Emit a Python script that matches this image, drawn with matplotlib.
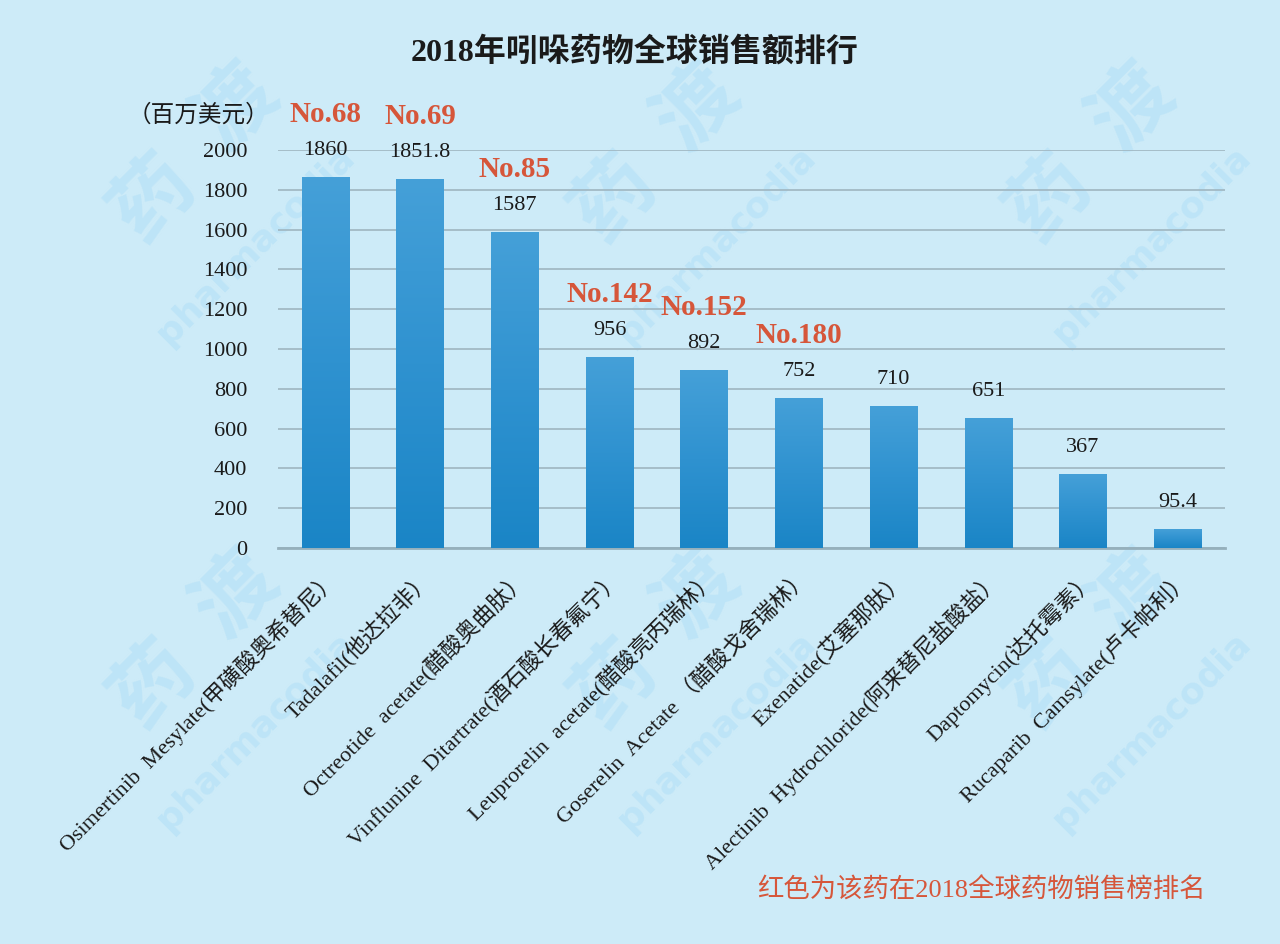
import matplotlib
matplotlib.use('Agg')
import matplotlib.pyplot as plt
import numpy as np
from matplotlib.colors import LinearSegmentedColormap

plt.rcParams['font.family'] = ['Liberation Serif', 'Noto Sans CJK SC']

# 数据
drugs = [
    'Osimertinib  Mesylate(甲磺酸奥希替尼）',
    'Tadalafil(他达拉非）',
    'Octreotide  acetate(醋酸奥曲肽）',
    'Vinflunine  Ditartrate(酒石酸长春氟宁）',
    'Leuprorelin  acetate(醋酸亮丙瑞林）',
    'Goserelin  Acetate （醋酸戈舍瑞林）',
    'Exenatide(艾塞那肽）',
    'Alectinib  Hydrochloride(阿来替尼盐酸盐）',
    'Daptomycin(达托霉素）',
    'Rucaparib  Camsylate(卢卡帕利）',
]
sales = [1860, 1851.8, 1587, 956, 892, 752, 710, 651, 367, 95.4]
value_labels = ['1860', '1851.8', '1587', '956', '892', '752', '710', '651', '367', '95.4']
ranks = ['No.68', 'No.69', 'No.85', 'No.142', 'No.152', 'No.180', '', '', '', '']
y_ticks = [0, 200, 400, 600, 800, 1000, 1200, 1400, 1600, 1800, 2000]

bg = '#cdebf8'
red = '#d6563a'

fig = plt.figure(figsize=(12.8, 9.44), dpi=100, facecolor=bg)

# 水印 (淡色, 放在最底层)
wm = '#bde4f7'
for dx in [0, 0.36, 0.70]:
    for dy in [0, -0.515]:
        fig.text(0.20 + dx, 0.74 + dy, 'pharmacodia', rotation=45, fontsize=26,
                 fontweight='bold', color=wm, family='DejaVu Sans',
                 ha='center', va='center', zorder=-5)
        fig.text(0.12 + dx, 0.79 + dy, '药', rotation=45, fontsize=58,
                 fontweight='bold', color=wm, family='Noto Sans CJK SC',
                 ha='center', va='center', zorder=-5)
        fig.text(0.185 + dx, 0.885 + dy, '渡', rotation=45, fontsize=58,
                 fontweight='bold', color=wm, family='Noto Sans CJK SC',
                 ha='center', va='center', zorder=-5)

ax = fig.add_axes([278 / 1280, 1 - 548 / 944, 947 / 1280, 398 / 944])
ax.set_facecolor('none')

x = np.arange(len(drugs))
width = 0.5
bars = ax.bar(x, sales, width=width, color='none', zorder=3)

# 渐变柱子
cmap = LinearSegmentedColormap.from_list('bl', ['#1a85c6', '#2f92d0', '#45a0d8'])
grad = np.linspace(0, 1, 256).reshape(-1, 1)
for b in bars:
    x0 = b.get_x()
    h = b.get_height()
    ax.imshow(grad, extent=[x0, x0 + width, 0, h], origin='lower',
              cmap=cmap, aspect='auto', zorder=3)

for i, v in enumerate(sales):
    ax.annotate(value_labels[i], (x[i], v), xytext=(0, 27), textcoords='offset pixels',
                ha='center', va='center', fontsize=16, color='#1a1a1a', zorder=5)
    if ranks[i]:
        ax.annotate(ranks[i], (x[i], v), xytext=(0, 63), textcoords='offset pixels',
                    ha='center', va='center', fontsize=21, fontweight='bold',
                    color=red, zorder=5)

ax.set_xlim(-0.5, len(drugs) - 0.5)
ax.set_ylim(0, 2000)
ax.set_yticks(y_ticks)
ax.set_yticklabels([str(t) for t in y_ticks], fontsize=16, color='#1a1a1a')
ax.tick_params(axis='y', length=0, pad=22)
ax.grid(axis='y', color='#9fb6c0', linewidth=1.2, zorder=1)
ax.set_axisbelow(True)

ax.set_xticks(x)
ax.set_xticklabels(drugs, rotation=45, ha='right', rotation_mode='anchor',
                   fontsize=16, color='#1a1a1a')
ax.tick_params(axis='x', length=0, pad=14)

for s in ['top', 'right', 'left']:
    ax.spines[s].set_visible(False)
ax.spines['bottom'].set_color('#95b0bc')
ax.spines['bottom'].set_linewidth(2)

fig.text(0.496, 0.945, '2018年吲哚药物全球销售额排行', ha='center', va='center',
         fontsize=23, fontweight='bold', color='#1a1a1a')
fig.text(0.100, 0.878, '（百万美元）', ha='left', va='center', fontsize=17, color='#1a1a1a')
fig.text(0.942, 0.057, '红色为该药在2018全球药物销售榜排名', ha='right', va='center',
         fontsize=19, color=red)

fig.savefig('out.png', dpi=100, facecolor=bg)
